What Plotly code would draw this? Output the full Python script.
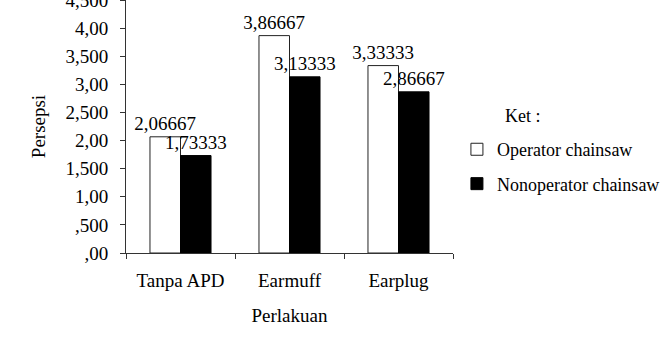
import plotly.graph_objects as go

categories = ["Tanpa APD", "Earmuff", "Earplug"]
operator = [2.06667, 3.86667, 3.33333]
nonoperator = [1.73333, 3.13333, 2.86667]
operator_text = ["2,06667", "3,86667", "3,33333"]
nonoperator_text = ["1,73333", "3,13333", "2,86667"]
y_tickvals = [0, 0.5, 1, 1.5, 2, 2.5, 3, 3.5, 4, 4.5]
y_ticktext = [",00", ",500", "1,00", "1,500", "2,00", "2,500", "3,00", "3,500", "4,00", "4,500"]

FONT = "Liberation Serif"
FS = 19
LFS = 18

fig = go.Figure()
fig.add_trace(go.Bar(
    x=categories, y=operator, name="Operator chainsaw",
    marker=dict(color="white", line=dict(color="#222", width=1)),
    text=operator_text, textposition="outside", constraintext="none",
    textfont=dict(family=FONT, size=FS, color="black"), cliponaxis=False,
    legendgroup="a",
))
fig.add_trace(go.Bar(
    x=categories, y=nonoperator, name="Nonoperator chainsaw",
    marker=dict(color="black", line=dict(color="black", width=1)),
    text=nonoperator_text, textposition="outside", constraintext="none",
    textfont=dict(family=FONT, size=FS, color="black"), cliponaxis=False,
    legendgroup="b",
))

fig.update_layout(
    width=672, height=338,
    margin=dict(l=126, r=219, t=0, b=85, autoexpand=False),
    paper_bgcolor="white", plot_bgcolor="white",
    font=dict(family=FONT, size=FS, color="black"),
    barmode="group", bargap=0.44, bargroupgap=0,
    showlegend=True,
    legend=dict(x=1.012, y=0.482, xanchor="left", yanchor="top",
                font=dict(family=FONT, size=LFS, color="black"),
                tracegroupgap=8, traceorder="grouped",
                itemwidth=30, bgcolor="rgba(0,0,0,0)"),
    annotations=[dict(text="Ket :", xref="paper", yref="paper",
                      x=1.153, y=0.494, xanchor="left", yanchor="bottom",
                      showarrow=False, font=dict(family=FONT, size=LFS, color="black"))],
)
fig.update_xaxes(
    automargin=False,
    showline=True, linecolor="#333", linewidth=1,
    ticks="outside", tickson="boundaries", ticklen=5, tickcolor="#333",
    ticklabelstandoff=10,
    title=dict(text="Perlakuan", standoff=18, font=dict(family=FONT, size=FS)),
    showgrid=False, tickfont=dict(family=FONT, size=FS),
)
fig.update_yaxes(
    automargin=False,
    range=[0, 4.5], tickvals=y_tickvals, ticktext=y_ticktext,
    showline=True, linecolor="#333", linewidth=1,
    ticks="outside", ticklen=5, tickcolor="#333",
    ticklabelstandoff=8, ticklabeloverflow="allow",
    showgrid=False, zeroline=False,
    title=dict(text="Persepsi", standoff=14, font=dict(family=FONT, size=FS)),
    tickfont=dict(family=FONT, size=FS),
)

fig.write_html("out.html")
